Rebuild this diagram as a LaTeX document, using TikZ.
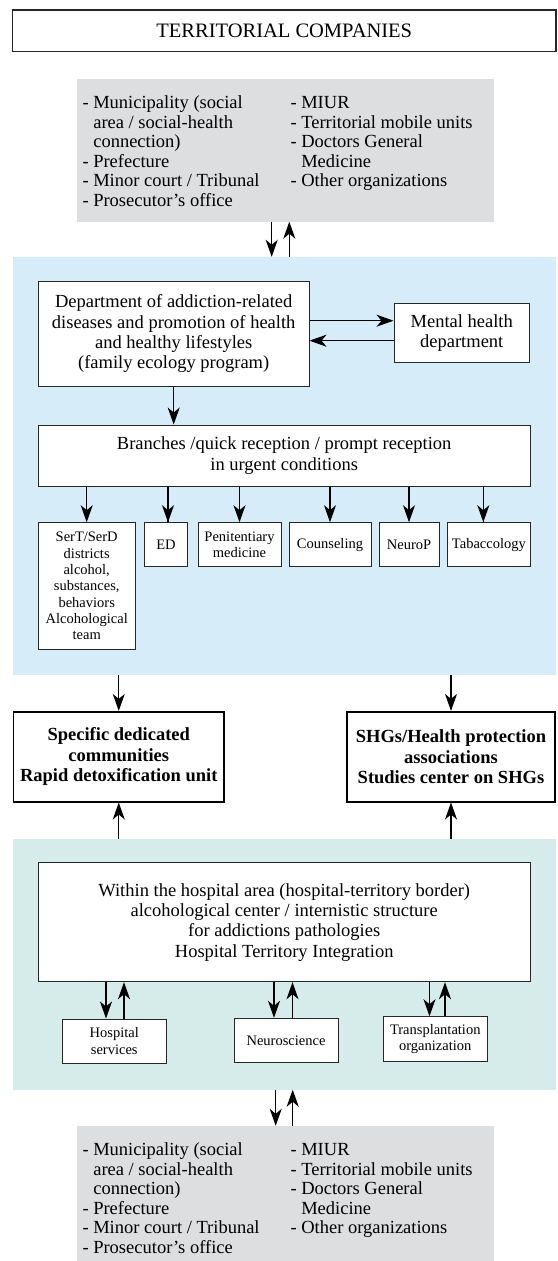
\documentclass[tikz,border=0pt]{standalone}
\usepackage{fontspec}
\setmainfont{Liberation Serif}
\usetikzlibrary{calc,arrows.meta}
\definecolor{bleuzone}{RGB}{214,236,249}
\definecolor{vertzone}{RGB}{214,236,234}
\definecolor{grisencart}{RGB}{221,222,224}
\newcommand{\hang}{\hphantom{-\ }}
\newcommand{\listepartenaires}{%
  \begin{tabular}{@{}p{208pt}@{}l@{}}
    - Municipality (social & - MIUR\\
    \hang area / social-health & - Territorial mobile units\\
    \hang connection) & - Doctors General\\
    - Prefecture & \hang Medicine\\
    - Minor court / Tribunal & - Other organizations\\
    - Prosecutor's office &
  \end{tabular}}

\begin{document}
\begin{tikzpicture}[x=1pt,y=-1pt]
  %
% Styles
%
\tikzset{every node/.style={font=\fontsize{18.5}{20.3}\selectfont}};%
\tikzset{fleche/.style={-{Stealth[length=17pt,width=12pt,inset=5pt]}, line width=1.2pt}};%
\tikzset{zone/.style={inner sep=0pt}};%
\tikzset{encart/.style={fill=grisencart, inner sep=0pt}};%
\tikzset{liste/.style={inner sep=0pt, font=\fontsize{18.5}{19.5}\selectfont}};%
\tikzset{boite/.style={draw=black!85, line width=1pt, fill=white, align=center, inner sep=0pt}};%
\tikzset{petite boite/.style={boite, font=\fontsize{14.5}{16.3}\selectfont}};%
\tikzset{boite forte/.style={boite, draw=black, line width=1.6pt, font=\bfseries\fontsize{18.5}{20.3}\selectfont}};%
\tikzset{cadre titre/.style={boite, line width=1.3pt, font=\fontsize{20.5}{22}\selectfont}};%

\useasboundingbox (0,0) rectangle (557,1261);%

%
% Territorial side
%
\node[cadre titre, minimum width=543.5, minimum height=41.7] (societes) at (284.25,30.85) {TERRITORIAL COMPANIES};%
\node[encart, minimum width=417.5, minimum height=142.5] (partenaireshaut) at (285.25,150.25) {};%
\node[liste, anchor=north west] (listehaut) at ($(partenaireshaut.north west)+(6,16)$) {\listepartenaires};%

%
% Department (blue zone)
%
\node[zone, fill=bleuzone, minimum width=543, minimum height=418] (zonebleue) at (284.5,466) {};%
\node[boite, minimum width=270.6, minimum height=104.3] (departement) at (173.7,333.85)
  {Department of addiction-related\\diseases and promotion of health\\and healthy lifestyles\\(family ecology program)};%
\node[boite, minimum width=135.5, minimum height=59.4] (santementale) at (461.75,333) {Mental health\\department};%
\node[boite, minimum width=491.6, minimum height=61] (antennes) at (284.2,455.5)
  {Branches /quick reception / prompt reception\\in urgent conditions};%
\node[petite boite, minimum width=96.6, minimum height=126.6] (sert) at (86.7,586)
  {SerT/SerD\\districts\\alcohol,\\substances,\\behaviors\\Alcohological\\team};%
\node[petite boite, minimum width=43, minimum height=44] (ed) at (166,544.7) {ED};%
\node[petite boite, minimum width=83, minimum height=44] (penitentiaire) at (239.5,544.7) {Penitentiary\\medicine};%
\node[petite boite, minimum width=82, minimum height=44] (conseil) at (330,544.7) {Counseling};%
\node[petite boite, minimum width=60, minimum height=44] (neurop) at (409,544.7) {NeuroP};%
\node[petite boite, minimum width=82.3, minimum height=44] (tabac) at (488.9,544.7) {Tabaccology};%

%
% Communities and associations
%
\node[boite forte, minimum width=210.5, minimum height=90] (communautes) at (118.75,756.7)
  {Specific dedicated\\communities\\Rapid detoxification unit};%
\node[boite forte, minimum width=208, minimum height=90] (entraide) at (451,756.7)
  {SHGs/Health protection\\associations\\Studies center on SHGs};%

%
% Hospital (green zone)
%
\node[zone, fill=vertzone, minimum width=543, minimum height=250.5] (zoneverte) at (284.5,964.25) {};%
\node[boite, minimum width=491.6, minimum height=119] (hopital) at (284.2,922.2)
  {Within the hospital area (hospital-territory border)\\alcohological center / internistic structure\\for addictions pathologies\\Hospital Territory Integration};%
\node[petite boite, minimum width=104.5, minimum height=44.3] (serviceshop) at (114.25,1041.15) {Hospital\\services};%
\node[petite boite, minimum width=104, minimum height=44] (neurosciences) at (286,1040.3) {Neuroscience};%
\node[petite boite, minimum width=104.5, minimum height=45] (greffes) at (435.25,1039.2) {Transplantation\\organization};%

\node[encart, minimum width=417.5, minimum height=135] (partenairesbas) at (285.25,1193.5) {};%
\node[liste, anchor=north west] (listebas) at ($(partenairesbas.north west)+(6,16)$) {\listepartenaires};%

%
% Arrows
%
\draw[fleche] ($(partenaireshaut.south)+(-13.55,0)$) coordinate (haut1) -- (haut1 |- zonebleue.north);%
\draw[fleche] ($(zonebleue.north)+(4.8,0)$) coordinate (haut2) -- (haut2 |- partenaireshaut.south);%

\draw[fleche] ($(departement.east)+(0,-13.15)$) coordinate (dep1) -- (dep1 -| santementale.west);%
\draw[fleche] ($(santementale.west)+(0,7.7)$) coordinate (dep2) -- (dep2 -| departement.east);%
\draw[fleche] (departement.south) -- (departement.south |- antennes.north);%

\draw[fleche] (sert.north |- antennes.south) -- (sert.north);%
\draw[fleche] ($(ed.north)+(2,0)$) coordinate (ant2) -- (ant2 |- antennes.south) -- (ant2);%
\draw[fleche] (penitentiaire.north |- antennes.south) -- (penitentiaire.north);%
\draw[fleche] (conseil.north |- antennes.south) -- (conseil.north);%
\draw[fleche] (neurop.north |- antennes.south) -- (neurop.north);%
\draw[fleche] ($(tabac.north)+(-5.6,0)$) coordinate (ant6) -- (ant6 |- antennes.south) -- (ant6);%

\draw[fleche] (communautes.north |- zonebleue.south) -- (communautes.north);%
\draw[fleche] (entraide.north |- zonebleue.south) -- (entraide.north);%
\draw[fleche] (communautes.south |- zoneverte.north) -- (communautes.south);%
\draw[fleche] (entraide.south |- zoneverte.north) -- (entraide.south);%

\draw[fleche] ($(hopital.south -| serviceshop.north)+(-8.25,0)$) coordinate (hop1) -- (hop1 |- serviceshop.north);%
\draw[fleche] ($(serviceshop.north)+(9.75,0)$) coordinate (hop2) -- (hop2 |- hopital.south);%
\draw[fleche] ($(hopital.south -| neurosciences.north)+(-12,0)$) coordinate (hop3) -- (hop3 |- neurosciences.north);%
\draw[fleche] ($(neurosciences.north)+(6.5,0)$) coordinate (hop4) -- (hop4 |- hopital.south);%
\draw[fleche] ($(hopital.south -| greffes.north)+(-5.75,0)$) coordinate (hop5) -- (hop5 |- greffes.north);%
\draw[fleche] ($(greffes.north)+(9.75,0)$) coordinate (hop6) -- (hop6 |- hopital.south);%

\draw[fleche] ($(zoneverte.south)+(-8.8,0)$) coordinate (bas1) -- (bas1 |- partenairesbas.north);%
\draw[fleche] ($(partenairesbas.north)+(7.45,0)$) coordinate (bas2) -- (bas2 |- zoneverte.south);%
\end{tikzpicture}
\end{document}
